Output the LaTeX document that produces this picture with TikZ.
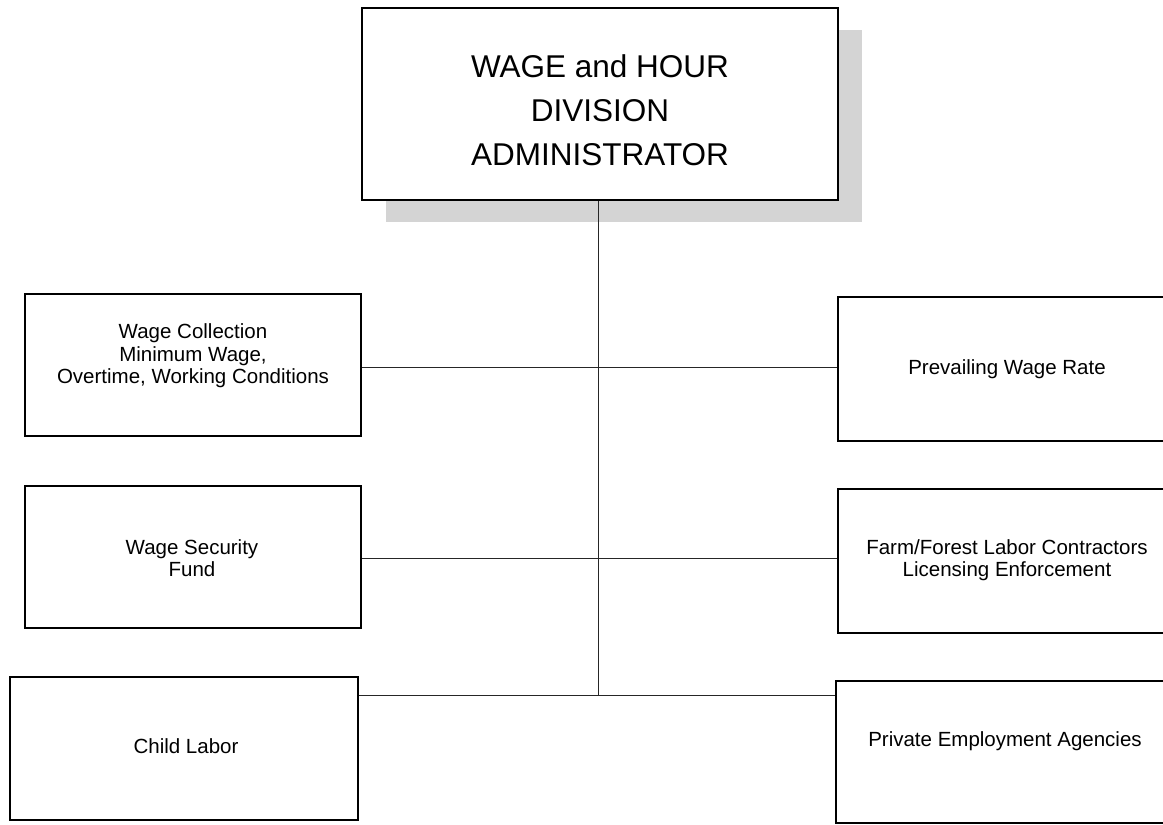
\documentclass[tikz,border=0pt]{standalone}
\usepackage{fontspec}
\setmainfont{Liberation Sans}
\usetikzlibrary{shadows,patterns}
\begin{document}
\begin{tikzpicture}[x=1pt,y=-1pt,
  box/.style={draw=black, line width=1.4pt, fill=white, inner sep=0pt},
  headbox/.style={box, drop shadow={shadow xshift=24pt, shadow yshift=-22pt,
      opacity=1, fill=black!17}},
  lbl/.style={align=center, inner sep=0pt, font=\fontsize{20.5}{22.5}\selectfont},
  head/.style={align=center, inner sep=0pt, font=\fontsize{31.5}{44}\selectfont},
  link/.style={line width=0.9pt, draw=black!85}]
\useasboundingbox (0,0) rectangle (1163,825);

% head of the division
\node[headbox, minimum width=476pt, minimum height=192pt] (admin) at (600,104) {};
\node[head] (adminT) at (600,110) {WAGE and HOUR\\DIVISION\\ADMINISTRATOR};

% units on the left
\node[box, minimum width=336pt, minimum height=142pt] (wc) at (193,365) {};
\node[box, minimum width=336pt, minimum height=142pt] (ws) at (193,557) {};
\node[box, minimum width=348pt, minimum height=143pt] (cl) at (184,748.5) {};

% units on the right
\node[box, minimum width=338pt, minimum height=144pt] (pw) at (1007,369) {};
\node[box, minimum width=338pt, minimum height=144pt] (ff) at (1007,561) {};
\node[box, minimum width=340pt, minimum height=142pt] (pe) at (1006,752) {};

% unit labels
\node[lbl] (wcT) at (193,356) {Wage Collection\\Minimum Wage,\\Overtime, Working Conditions};
\node[lbl] (wsT) at (192,558) {Wage Security\\Fund};
\node[lbl] (clT) at (186,746) {Child Labor};
\node[lbl] (pwT) at (1007,369) {Prevailing Wage Rate};
\node[lbl] (ffT) at (1007,560) {Farm/Forest Labor Contractors\\Licensing Enforcement};
\node[lbl] (peT) at (1005,741) {Private Employment Agencies};

% junctions on the spine
\coordinate (j1) at (598,367);
\coordinate (j2) at (598,558);
\coordinate (j3) at (598,695);

% connectors
\draw[link] (admin.south -| j3) -- (j3);
\draw[link] (j1 -| wc.east) -- (j1 -| pw.west);
\draw[link] (j2 -| ws.east) -- (j2 -| ff.west);
\draw[link] (j3 -| cl.east) -- (j3 -| pe.west);
\end{tikzpicture}
\end{document}
